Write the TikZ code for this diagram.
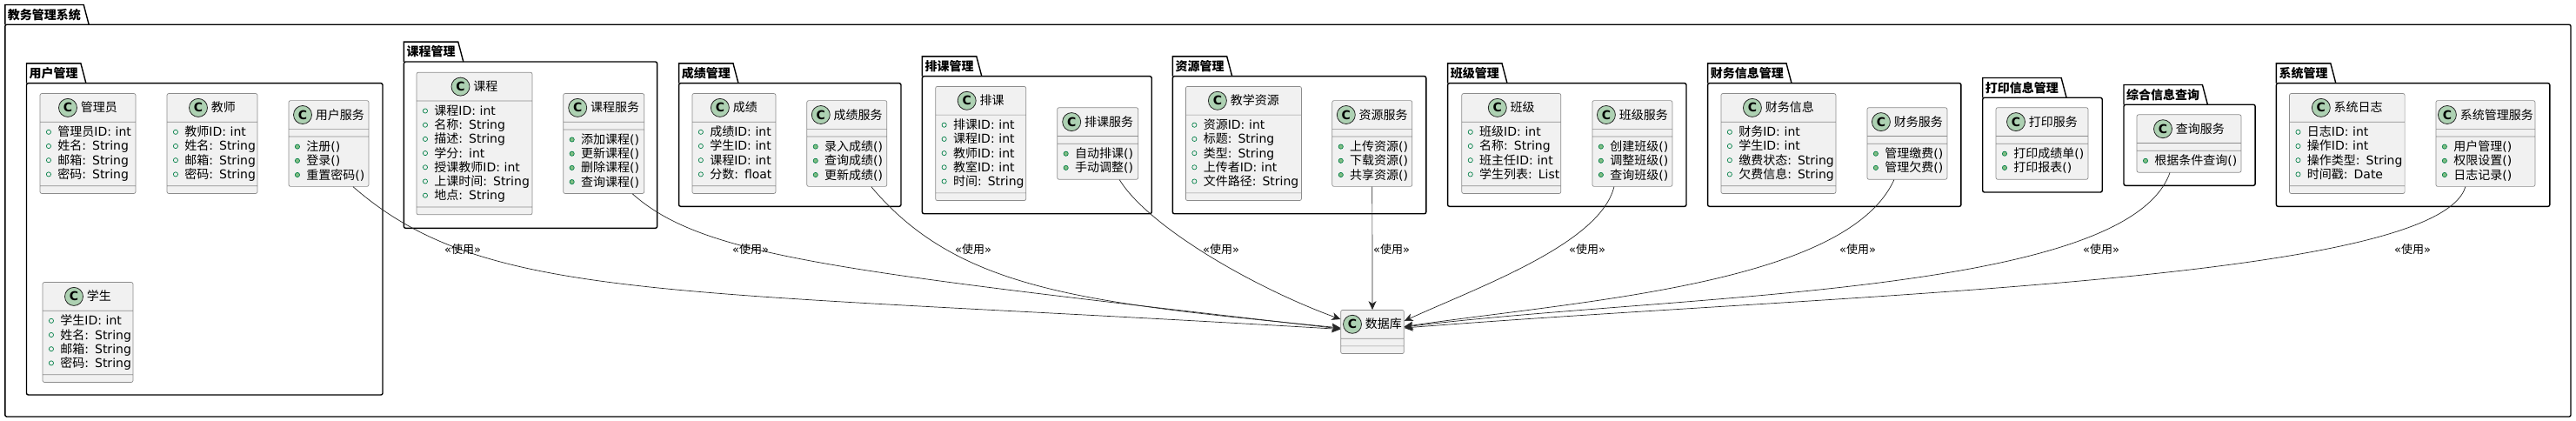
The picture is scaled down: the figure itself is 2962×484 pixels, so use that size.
\documentclass[tikz,border=0pt]{standalone}
\usepackage{fontspec}
\setmainfont{Noto Sans CJK SC}
\newfontfamily\latfont{DejaVu Sans}
\usetikzlibrary{shapes.multipart,arrows.meta}

\definecolor{classbg}{HTML}{F1F1F1}
\definecolor{classline}{HTML}{8C8C8C}
\definecolor{iconbg}{HTML}{ADD1B2}
\definecolor{fieldgreen}{HTML}{038048}
\definecolor{methodbg}{HTML}{84BE84}

% class header: green C circle and the class name
\newcommand{\cicon}{\rlap{\tikz[baseline={(0pt,-5pt)}]\draw[line width=0.8pt, draw=black!85, fill=iconbg] (0pt,0pt) circle (10.5pt);}\hbox to 21.8pt{\hss\latfont\bfseries C\hss}}
\newcommand{\chead}[1]{{\centering\noindent\vrule height17pt depth7pt width0pt\cicon\hskip4pt#1\par}}
% fields and methods
\newcommand{\fieldicon}{\tikz[baseline={(0pt,-5pt)}]\draw[line width=0.7pt, draw=fieldgreen] (0pt,0pt) circle (2.6pt);}
\newcommand{\methodicon}{\tikz[baseline={(0pt,-5pt)}]\draw[line width=0.7pt, draw=fieldgreen, fill=methodbg] (0pt,0pt) circle (2.6pt);}
\newcommand{\fa}[2]{\noindent\hskip7pt\vrule height12.2pt depth4pt width0pt\fieldicon\hskip7.5pt#1{\latfont#2}\par}
\newcommand{\mt}[2]{\noindent\hskip7pt\vrule height12.2pt depth4pt width0pt\methodicon\hskip7.5pt#1{\latfont#2}\par}
% package: tab node, tab outline and body
\newcommand{\umlpackage}[6]{%
  \node[pkgtab] (#1) at (#2,#3) {#6};
  \draw[pkgline] (#1.south west) -- (#1.north west) -- (#1.north east) -- ([xshift=6pt]#1.south east);
  \draw[pkgline, rounded corners=2pt] (#2,#3) rectangle (#4,#5);
}

\tikzset{
  umlclass/.style={rectangle split, rectangle split parts=3, draw=classline, fill=classbg,
    line width=0.7pt, rounded corners=2pt, inner xsep=0pt, inner ysep=4pt,
    rectangle split empty part height=0pt, rectangle split empty part depth=0pt,
    font=\fontsize{14pt}{16.2pt}\selectfont},
  pkgtab/.style={anchor=south west, inner xsep=3pt, inner ysep=0pt, minimum height=22.4pt,
    font=\bfseries\fontsize{14pt}{16pt}\selectfont},
  pkgline/.style={draw=black, line width=1.4pt},
  uses/.style={->, draw=black!85, line width=0.7pt},
  useslabel/.style={inner sep=0pt, font=\fontsize{13pt}{15pt}\selectfont},
}

\begin{document}
\begin{tikzpicture}[x=1pt, y=-1pt, >={Stealth[length=10pt, width=9pt, inset=3pt]}]
    \useasboundingbox (0,0) rectangle (2962,484);

    % Packages
    \umlpackage{pjw}{5.8}{28.3}{2956}{479}{教务管理系统}
    \umlpackage{pyh}{30.5}{95.7}{440}{454}{用户管理}
    \umlpackage{pkc}{464.4}{71}{755.6}{262.3}{课程管理}
    \umlpackage{pcj}{780.6}{95.7}{1036}{237.3}{成绩管理}
    \umlpackage{ppk}{1060.4}{87.7}{1324.2}{245.7}{排课管理}
    \umlpackage{pzy}{1348.3}{87.7}{1639.8}{245.7}{资源管理}
    \umlpackage{pbj}{1664.6}{95.7}{1939}{237.3}{班级管理}
    \umlpackage{pcw}{1963.6}{95.7}{2254.9}{237.3}{财务信息管理}
    \umlpackage{pdy}{2279.7}{112.3}{2417.2}{221}{打印信息管理}
    \umlpackage{pcx}{2442}{120.3}{2593.1}{213.3}{综合信息查询}
    \umlpackage{pxt}{2617.4}{95.7}{2931.8}{237.3}{系统管理}

    % Classes
    \node[umlclass, text width=110pt] (gly) at (101,165) {\chead{管理员}\nodepart{two}\fa{管理员}{ID: int}\fa{姓名}{: String}\fa{邮箱}{: String}\fa{密码}{: String}\nodepart{three}};
    \node[umlclass, text width=104pt] (js) at (244,165) {\chead{教师}\nodepart{two}\fa{教师}{ID: int}\fa{姓名}{: String}\fa{邮箱}{: String}\fa{密码}{: String}\nodepart{three}};
    \node[umlclass, text width=92pt] (yhfw) at (378,165) {\chead{用户服务}\nodepart{two}\nodepart{three}\mt{注册}{()}\mt{登录}{()}\mt{重置密码}{()}};
    \node[umlclass, text width=104pt] (xs) at (101,382) {\chead{学生}\nodepart{two}\fa{学生}{ID: int}\fa{姓名}{: String}\fa{邮箱}{: String}\fa{密码}{: String}\nodepart{three}};
    \node[umlclass, text width=133pt] (kc) at (545.5,165) {\chead{课程}\nodepart{two}\fa{课程}{ID: int}\fa{名称}{: String}\fa{描述}{: String}\fa{学分}{: int}\fa{授课教师}{ID: int}\fa{上课时间}{: String}\fa{地点}{: String}\nodepart{three}};
    \node[umlclass, text width=93pt] (kcfw) at (694.2,165) {\chead{课程服务}\nodepart{two}\nodepart{three}\mt{添加课程}{()}\mt{更新课程}{()}\mt{删除课程}{()}\mt{查询课程}{()}};
    \node[umlclass, text width=96pt] (cj) at (843.9,165) {\chead{成绩}\nodepart{two}\fa{成绩}{ID: int}\fa{学生}{ID: int}\fa{课程}{ID: int}\fa{分数}{: float}\nodepart{three}};
    \node[umlclass, text width=92pt] (cjfw) at (973.8,165) {\chead{成绩服务}\nodepart{two}\nodepart{three}\mt{录入成绩}{()}\mt{查询成绩}{()}\mt{更新成绩}{()}};
    \node[umlclass, text width=104pt] (pk) at (1127.7,165) {\chead{排课}\nodepart{two}\fa{排课}{ID: int}\fa{课程}{ID: int}\fa{教师}{ID: int}\fa{教室}{ID: int}\fa{时间}{: String}\nodepart{three}};
    \node[umlclass, text width=93pt] (pkfw) at (1262.2,165) {\chead{排课服务}\nodepart{two}\nodepart{three}\mt{自动排课}{()}\mt{手动调整}{()}};
    \node[umlclass, text width=133pt] (jxzy) at (1429.9,165) {\chead{教学资源}\nodepart{two}\fa{资源}{ID: int}\fa{标题}{: String}\fa{类型}{: String}\fa{上传者}{ID: int}\fa{文件路径}{: String}\nodepart{three}};
    \node[umlclass, text width=92pt] (zyfw) at (1577.8,165) {\chead{资源服务}\nodepart{two}\nodepart{three}\mt{上传资源}{()}\mt{下载资源}{()}\mt{共享资源}{()}};
    \node[umlclass, text width=114pt] (bj) at (1737.8,165) {\chead{班级}\nodepart{two}\fa{班级}{ID: int}\fa{名称}{: String}\fa{班主任}{ID: int}\fa{学生列表}{: List}\nodepart{three}};
    \node[umlclass, text width=92pt] (bjfw) at (1876.9,165) {\chead{班级服务}\nodepart{two}\nodepart{three}\mt{创建班级}{()}\mt{调整班级}{()}\mt{查询班级}{()}};
    \node[umlclass, text width=132pt] (cwxx) at (2044.9,165) {\chead{财务信息}\nodepart{two}\fa{财务}{ID: int}\fa{学生}{ID: int}\fa{缴费状态}{: String}\fa{欠费信息}{: String}\nodepart{three}};
    \node[umlclass, text width=92pt] (cwfw) at (2192.9,165) {\chead{财务服务}\nodepart{two}\nodepart{three}\mt{管理缴费}{()}\mt{管理欠费}{()}};
    \node[umlclass, text width=106pt] (dyfw) at (2348,165) {\chead{打印服务}\nodepart{two}\nodepart{three}\mt{打印成绩单}{()}\mt{打印报表}{()}};
    \node[umlclass, text width=120pt] (cxfw) at (2517,165) {\chead{查询服务}\nodepart{two}\nodepart{three}\mt{根据条件查询}{()}};
    \node[umlclass, text width=132.6pt] (xtrz) at (2698.8,165) {\chead{系统日志}\nodepart{two}\fa{日志}{ID: int}\fa{操作}{ID: int}\fa{操作类型}{: String}\fa{时间戳}{: Date}\nodepart{three}};
    \node[umlclass, text width=114pt] (xtglfw) at (2857.9,165) {\chead{系统管理服务}\nodepart{two}\nodepart{three}\mt{用户管理}{()}\mt{权限设置}{()}\mt{日志记录}{()}};
    \node[umlclass, text width=72.6pt] (sjk) at (1578,381.5) {\chead{数据库}\nodepart{two}\nodepart{three}};

    % Uses connectors into the database
    \draw[uses] ([xshift=28pt]yhfw.south) .. controls (559,348) and (765,332) .. ([yshift=3pt]sjk.west);
    \draw[uses] ([xshift=33pt]kcfw.south) .. controls (809,296) and (968,312) .. ([yshift=3.5pt]sjk.west);
    \draw[uses] ([xshift=28pt]cjfw.south) .. controls (1103,335) and (1249,348) .. ([yshift=4.5pt]sjk.west);
    \draw[uses] ([xshift=25pt]pkfw.south) .. controls (1320,260) and (1440,330) .. ([yshift=14.5pt]sjk.west);
    \draw[uses] (zyfw.south) -- (sjk.north);
    \draw[uses] ([xshift=-21pt]bjfw.south) .. controls (1840,280) and (1700,330) .. ([yshift=12.5pt]sjk.east);
    \draw[uses] ([xshift=-15pt]cwfw.south) .. controls (2122.7,327.8) and (1813,346) .. ([yshift=6pt]sjk.east);
    \draw[uses] ([xshift=-22pt]cxfw.south) .. controls (2444.6,341) and (1918,338) .. ([yshift=5.5pt]sjk.east);
    \draw[uses] ([xshift=-23pt]xtglfw.south) .. controls (2801.5,324.7) and (2115.5,337.4) .. ([yshift=4.5pt]sjk.east);

    % Connector labels
    \node[useslabel] (lyh) at (532,287) {{\latfont«}使用{\latfont»}};
    \node[useslabel] (lkc) at (863,287) {{\latfont«}使用{\latfont»}};
    \node[useslabel] (lcj) at (1119,287) {{\latfont«}使用{\latfont»}};
    \node[useslabel] (lpk) at (1404,287) {{\latfont«}使用{\latfont»}};
    \node[useslabel] (lzy) at (1600,287) {{\latfont«}使用{\latfont»}};
    \node[useslabel] (lbj) at (1825,287) {{\latfont«}使用{\latfont»}};
    \node[useslabel] (lcw) at (2136,287) {{\latfont«}使用{\latfont»}};
    \node[useslabel] (lcx) at (2416,287) {{\latfont«}使用{\latfont»}};
    \node[useslabel] (lxt) at (2774,287) {{\latfont«}使用{\latfont»}};
\end{tikzpicture}
\end{document}
